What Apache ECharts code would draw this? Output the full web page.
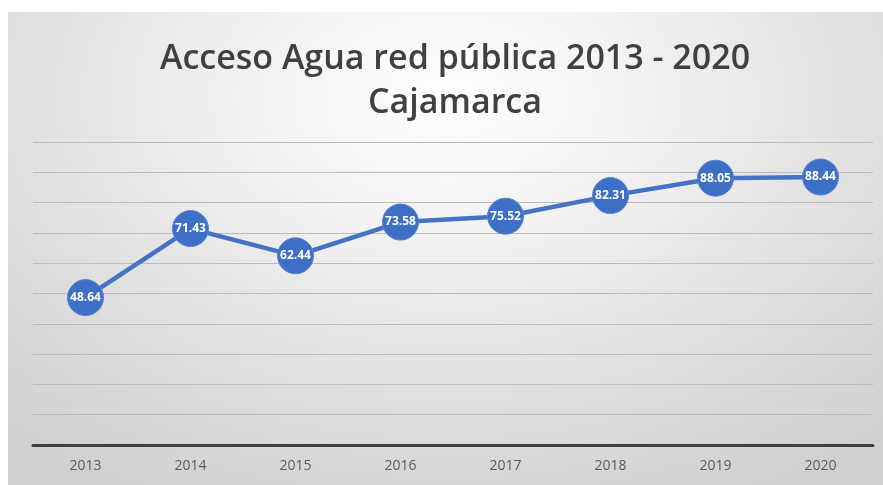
<!DOCTYPE html>
<html>
<head>
<meta charset="utf-8">
<script src="https://cdn.jsdelivr.net/npm/echarts@6/dist/echarts.min.js"></script>
<style>
  html, body { margin: 0; padding: 0; background: #ffffff; width: 883px; height: 485px; overflow: hidden; }
  #chart {
    position: absolute; left: 8px; top: 12px; width: 875px; height: 473px;
    background: radial-gradient(ellipse 75% 95% at 50% 18%, #ffffff 0%, #f2f2f2 30%, #e0e0e0 65%, #d0d0d0 100%);
  }
</style>
</head>
<body>
<div id="chart"></div>
<script>
// Annual coverage of piped public water access, Cajamarca
var years = ['2013', '2014', '2015', '2016', '2017', '2018', '2019', '2020'];
var coverage = [48.64, 71.43, 62.44, 73.58, 75.52, 82.31, 88.05, 88.44];
var titleLines = ['Acceso Agua red pública 2013 - 2020', 'Cajamarca'];

var chart = echarts.init(document.getElementById('chart'), null, { renderer: 'canvas' });

var titleStyle = {
  fontFamily: 'Open Sans',
  fontWeight: 600,
  fontSize: 34,
  color: '#404040'
};

chart.setOption({
  backgroundColor: 'transparent',
  animation: false,
  title: [
    { text: titleLines[0], left: 442, textAlign: 'center', top: 25, textStyle: titleStyle },
    { text: titleLines[1], left: 442, textAlign: 'center', top: 69, textStyle: titleStyle }
  ],
  grid: { left: 25, right: 10, top: 130, bottom: 40 },
  xAxis: {
    type: 'category',
    data: years,
    boundaryGap: true,
    axisTick: { show: false },
    axisLine: { show: true, lineStyle: { color: '#404040', width: 3 } },
    axisLabel: { color: '#595959', fontFamily: 'Open Sans', fontSize: 14, margin: 14 }
  },
  yAxis: {
    type: 'value',
    min: 0,
    max: 100,
    interval: 10,
    axisLabel: { show: false },
    axisLine: { show: false },
    axisTick: { show: false },
    splitLine: { show: true, lineStyle: { color: '#bababa', width: 1 } }
  },
  series: [{
    type: 'line',
    data: coverage,
    symbol: 'circle',
    symbolSize: 36,
    lineStyle: { color: '#4472C4', width: 4.5 },
    itemStyle: { color: '#3e6fc6', borderColor: '#5a82cc', borderWidth: 1 },
    label: {
      show: true,
      position: 'inside',
      color: '#ffffff',
      fontFamily: 'Open Sans',
      fontWeight: 'bold',
      fontSize: 12,
      formatter: function (p) { return p.value.toFixed(2); }
    }
  }]
});
</script>
</body>
</html>
